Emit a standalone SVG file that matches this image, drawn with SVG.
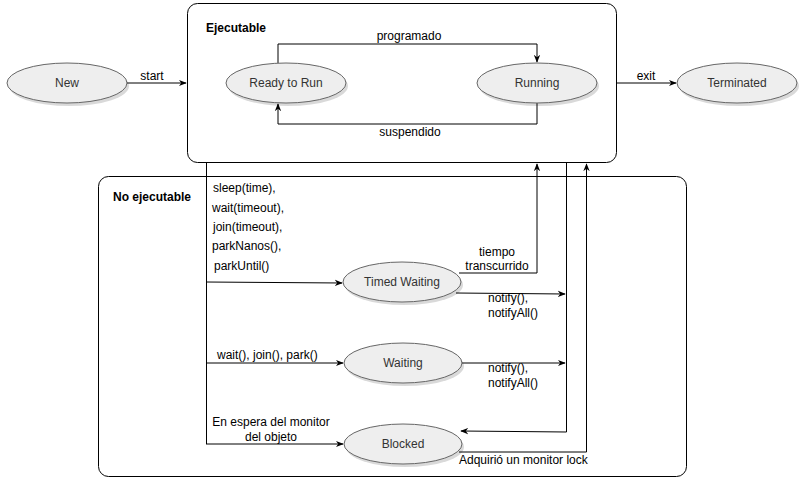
<svg xmlns="http://www.w3.org/2000/svg" width="806" height="481" viewBox="0 0 806 481">
<style>
.box{fill:#ffffff;stroke:#000000;stroke-width:1}
.st{fill:#eeeeee;stroke:#666666;stroke-width:1}
.sh{fill:#000000;opacity:0.15}
.sl{font-family:"Liberation Sans",Arial,sans-serif;font-size:12px;fill:#333333;text-anchor:middle}
.lb{font-family:"Liberation Sans",Arial,sans-serif;font-size:12px;fill:#000000}
.ti{font-family:"Liberation Sans",Arial,sans-serif;font-size:12px;font-weight:bold;fill:#000000}
.c{fill:none;stroke:#000000;stroke-width:1}
</style>
<defs>
<marker id="ah" viewBox="0 0 10 10" refX="9" refY="5" markerWidth="8" markerHeight="8" orient="auto" markerUnits="userSpaceOnUse">
<path d="M0,1 L10,5 L0,9 L3,5 Z" fill="#000000"/>
</marker>
</defs>
<g id="no-ejecutable">
<rect class="box" x="98.5" y="176.5" width="588" height="300" rx="10"/>
<text class="ti" x="113" y="201">No ejecutable</text>
</g>
<g id="ejecutable">
<rect class="box" x="187.5" y="3.5" width="429" height="159" rx="10"/>
<text class="ti" x="206" y="32">Ejecutable</text>
</g>
<g id="connectors">
<path class="c" d="M127,83 L186,83" marker-end="url(#ah)"/>
<text class="lb" x="152" y="80" text-anchor="middle">start</text>
<path class="c" d="M617,83 L676,83" marker-end="url(#ah)"/>
<text class="lb" x="646" y="80" text-anchor="middle">exit</text>
<path class="c" d="M278,63 L278,44 L537,44 L537,62" marker-end="url(#ah)"/>
<text class="lb" x="409" y="40" text-anchor="middle">programado</text>
<path class="c" d="M537,103 L537,124 L278,124 L278,104" marker-end="url(#ah)"/>
<text class="lb" x="410" y="136" text-anchor="middle">suspendido</text>
<path class="c" d="M206.5,163 L206.5,444"/>
<path class="c" d="M206,282 L342,283" marker-end="url(#ah)"/>
<path class="c" d="M206,363 L343,363" marker-end="url(#ah)"/>
<path class="c" d="M206,444 L343,444" marker-end="url(#ah)"/>
<text class="lb" x="213" y="192">sleep(time),</text>
<text class="lb" x="212" y="212">wait(timeout),</text>
<text class="lb" x="213" y="231">join(timeout),</text>
<text class="lb" x="212" y="250">parkNanos(),</text>
<text class="lb" x="214" y="270">parkUntil()</text>
<text class="lb" x="217" y="359">wait(), join(), park()</text>
<text class="lb" x="271" y="426" text-anchor="middle">En espera del monitor</text>
<text class="lb" x="271" y="441" text-anchor="middle">del objeto</text>
<path class="c" d="M459,273 L537,273 L537,164" marker-end="url(#ah)"/>
<text class="lb" x="497" y="256" text-anchor="middle">tiempo</text>
<text class="lb" x="497" y="270" text-anchor="middle">transcurrido</text>
<path class="c" d="M456,293 L565,294" marker-end="url(#ah)"/>
<text class="lb" x="488" y="302">notify(),</text>
<text class="lb" x="488" y="317">notifyAll()</text>
<path class="c" d="M462,363 L565,363" marker-end="url(#ah)"/>
<text class="lb" x="488" y="372">notify(),</text>
<text class="lb" x="488" y="387">notifyAll()</text>
<path class="c" d="M566.5,163 L566.5,432 L461,431" marker-end="url(#ah)"/>
<path class="c" d="M459,452 L586.5,452 L586.5,164" marker-end="url(#ah)"/>
<text class="lb" x="459" y="464">Adquirió un monitor lock</text>
</g>
<g id="new">
<ellipse class="sh" cx="69" cy="86" rx="60" ry="20"/>
<ellipse class="st" cx="67" cy="83" rx="60" ry="20"/>
<text class="sl" x="67" y="87">New</text>
</g>
<g id="ready-to-run">
<ellipse class="sh" cx="288" cy="86" rx="60" ry="20"/>
<ellipse class="st" cx="286" cy="83" rx="60" ry="20"/>
<text class="sl" x="286" y="87">Ready to Run</text>
</g>
<g id="running">
<ellipse class="sh" cx="539" cy="86" rx="60" ry="20"/>
<ellipse class="st" cx="537" cy="83" rx="60" ry="20"/>
<text class="sl" x="537" y="87">Running</text>
</g>
<g id="terminated">
<ellipse class="sh" cx="739" cy="86" rx="60" ry="20"/>
<ellipse class="st" cx="737" cy="83" rx="60" ry="20"/>
<text class="sl" x="737" y="87">Terminated</text>
</g>
<g id="timed-waiting">
<ellipse class="sh" cx="404" cy="285" rx="59" ry="20"/>
<ellipse class="st" cx="402" cy="282" rx="59" ry="20"/>
<text class="sl" x="402" y="286">Timed Waiting</text>
</g>
<g id="waiting">
<ellipse class="sh" cx="405" cy="366" rx="59" ry="20"/>
<ellipse class="st" cx="403" cy="363" rx="59" ry="20"/>
<text class="sl" x="403" y="367">Waiting</text>
</g>
<g id="blocked">
<ellipse class="sh" cx="405" cy="447" rx="59" ry="20"/>
<ellipse class="st" cx="403" cy="444" rx="59" ry="20"/>
<text class="sl" x="403" y="448">Blocked</text>
</g>
</svg>
